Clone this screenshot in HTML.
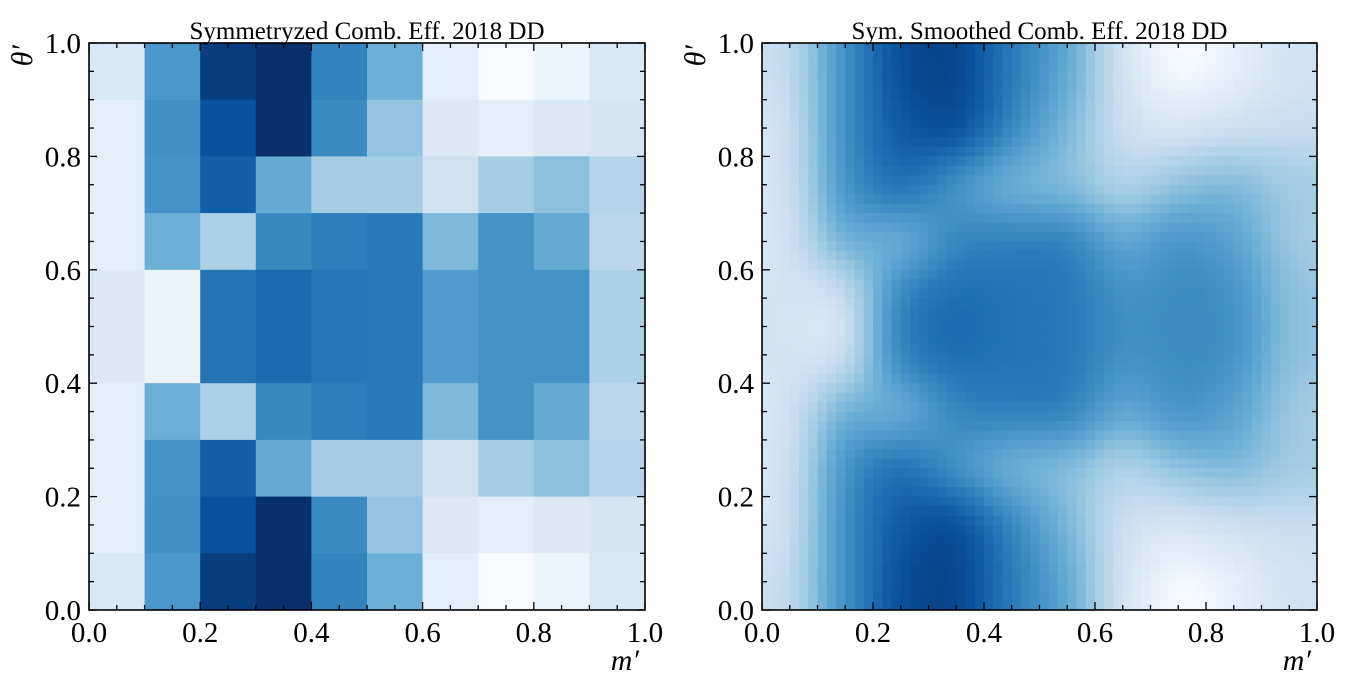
<!DOCTYPE html>
<html><head><meta charset="utf-8"><style>
html,body{margin:0;padding:0;background:#fff;}
svg{display:block;font-family:"Liberation Serif",serif;}
</style></head><body>
<svg id="s" width="1350" height="681" xmlns="http://www.w3.org/2000/svg"></svg>
<script>
// Bin values (rows from theta 0.9-1.0 down to 0.5-0.6; lower half mirrors)
const mBins = [0.05,0.15,0.25,0.35,0.45,0.55,0.65,0.75,0.85,0.95];
const rowTop1 = [0.15,0.60,0.95,1.00,0.68,0.50,0.10,0.00,0.05,0.15];
const rowTop2 = [0.10,0.63,0.87,1.00,0.65,0.40,0.14,0.10,0.14,0.17];
const rowTop3 = [0.10,0.62,0.82,0.52,0.35,0.35,0.20,0.35,0.42,0.30];
const rowTop4 = [0.10,0.50,0.33,0.66,0.70,0.72,0.45,0.62,0.52,0.28];
const rowTop5 = [0.14,0.06,0.74,0.78,0.73,0.72,0.58,0.62,0.62,0.33];
const xTicks = ["0.0","0.2","0.4","0.6","0.8","1.0"];
const yTicks = ["0.0","0.2","0.4","0.6","0.8","1.0"];
const upper = [rowTop1,rowTop2,rowTop3,rowTop4,rowTop5];
const grid = upper.concat(upper.slice().reverse()); // index 0 = top row

const NS="http://www.w3.org/2000/svg";
const svg=document.getElementById('s');
function el(t,a,p){const e=document.createElementNS(NS,t);for(const k in a)e.setAttribute(k,a[k]);(p||svg).appendChild(e);return e;}
const stops=["#f7fbff","#deebf7","#c6dbef","#9ecae1","#6baed6","#4292c6","#2171b5","#08519c","#08306b"];
function hx(c){return [1,3,5].map(i=>parseInt(c.substr(i,2),16));}
function cmap(v){v=Math.max(0,Math.min(1,v));const f=v*8,i=Math.min(7,Math.floor(f)),t=f-i;const a=hx(stops[i]),b=hx(stops[i+1]);return `rgb(${a.map((x,k)=>Math.round(x+(b[k]-x)*t)).join(',')})`;}

const panels=[{x0:89,x1:645,title:"Symmetryzed Comb. Eff. 2018 DD",name:"raw"},{x0:762,x1:1317,title:"Sym. Smoothed Comb. Eff. 2018 DD",name:"smoothed"}];
const Y0=610,Y1=43;
panels.forEach((p,pi)=>{
  const sx=v=>p.x0+v*(p.x1-p.x0), sy=v=>Y0-v*(Y0-Y1);
  const g=el('g',{});
  
  
  if(pi===0){
    grid.forEach((row,r)=>row.forEach((v,c)=>{
      const x=mBins[c]-0.05, yTop=1-r*0.1;
      const rc=el('rect',{x:sx(x),y:sy(yTop),width:sx(x+0.1)-sx(x)+0.5,height:sy(yTop-0.1)-sy(yTop)+0.5,fill:cmap(v)},g);
      
      
    }));
  } else {
    const N=60, sig=0.055, vals=[];
    let mn=1e9,mx=-1e9;
    for(let j=0;j<N;j++)for(let i=0;i<N;i++){
      const x=(i+0.5)/N,y=1-(j+0.5)/N;let s=0,w=0;
      grid.forEach((row,r)=>row.forEach((v,c)=>{const by=1-(r*0.1+0.05);const d=((x-mBins[c])**2+(y-by)**2)/(2*sig*sig);const ww=Math.exp(-d);s+=ww*v;w+=ww;}));
      const v=s/w;vals.push(v);mn=Math.min(mn,v);mx=Math.max(mx,v);
    }
    for(let j=0;j<N;j++)for(let i=0;i<N;i++){
      const v=Math.pow((vals[j*N+i]-mn)/(mx-mn),0.75)*0.92+0.0;
      const rc=el('rect',{x:sx(i/N),y:sy(1-j/N),width:(p.x1-p.x0)/N+0.5,height:(Y0-Y1)/N+0.5,fill:cmap(v)},g);
      
      
    }
  }
  el('rect',{x:p.x0,y:Y1,width:p.x1-p.x0,height:Y0-Y1,fill:'none',stroke:'#000','stroke-width':1.6});
  for(let k=0;k<=20;k++){
    const v=k/20,maj=k%4===0,L=maj?8:5;
    el('line',{x1:sx(v),x2:sx(v),y1:Y0,y2:Y0-L,stroke:'#000','stroke-width':1.3});
    el('line',{x1:sx(v),x2:sx(v),y1:Y1,y2:Y1+L,stroke:'#000','stroke-width':1.3});
    el('line',{x1:p.x0,x2:p.x0+L,y1:sy(v),y2:sy(v),stroke:'#000','stroke-width':1.3});
    el('line',{x1:p.x1,x2:p.x1-L,y1:sy(v),y2:sy(v),stroke:'#000','stroke-width':1.3});
  }
  xTicks.forEach((t,k)=>{const e=el('text',{x:sx(k*0.2),y:Y0+32,'font-size':29,'text-anchor':'middle'});e.textContent=t;});
  yTicks.forEach((t,k)=>{const e=el('text',{x:p.x0-8,y:sy(k*0.2)+10,'font-size':29,'text-anchor':'end'});e.textContent=t;});
  const ti=el('text',{x:(p.x0+p.x1)/2,y:Y1-4,'font-size':25,'text-anchor':'middle'});ti.textContent=p.title;
  
  const xl=el('text',{x:p.x1-6,y:670,'font-size':30,'font-style':'italic','text-anchor':'end'});xl.textContent="m′";
  
  const yl=el('text',{x:0,y:0,'font-size':30,'font-style':'italic','text-anchor':'end',transform:`translate(${p.x0-57},${Y1+2}) rotate(-90)`});yl.textContent="θ′";
  
});
</script>
</body></html>
